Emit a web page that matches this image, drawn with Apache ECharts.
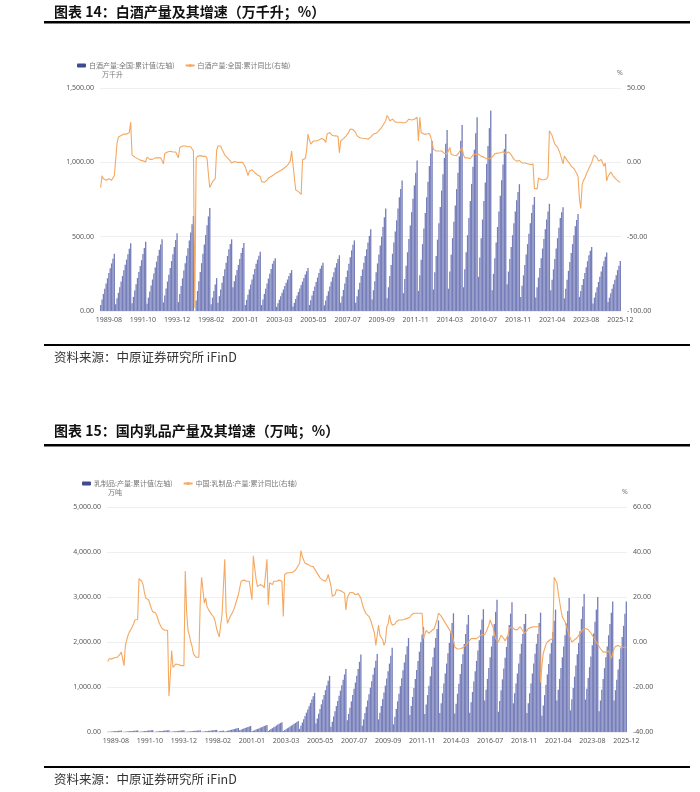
<!DOCTYPE html>
<html><head><meta charset="utf-8">
<script src="https://cdn.jsdelivr.net/npm/echarts/dist/echarts.min.js"></script>
<style>html,body{margin:0;padding:0;background:#fff}#c{width:700px;height:792px}</style>
</head><body><div id="c"></div>
<script>
// months present in the source series: [year, first month, last month]
const yearSpans = [[1989,2,12],[1990,1,12],[1991,2,12],[1992,1,12],[1993,2,12],[1994,1,12],[1995,1,12],
  [1998,2,6],[1999,2,12],[2000,4,12],[2001,1,12],[2002,2,12],[2003,1,12],[2004,1,12],[2005,2,12],
  [2006,1,12],[2007,2,12],[2008,1,12],[2009,2,12],[2010,1,12],[2011,2,12],[2012,2,12],[2013,2,12],
  [2014,2,12],[2015,2,12],[2016,3,12],[2017,2,12],[2018,3,12],[2019,2,12],[2020,2,12],[2021,3,12],
  [2022,2,12],[2023,3,12],[2024,2,12],[2025,3,12]];

const tickLabels = ['1989-08','1991-10','1993-12','1998-02','2001-01','2003-03','2005-05','2007-07',
  '2009-09','2011-11','2014-03','2016-07','2018-11','2021-04','2023-08','2025-12'];

// 白酒产量:全国:累计值 (万千升)
const liquorCum = [
  40,78,115,150,185,220,255,288,320,352,385,
  45,85,122,160,198,236,274,311,346,382,418,455,
  52,95,138,180,222,262,302,342,383,424,465,
  48,90,132,172,212,252,292,332,372,412,448,482,
  58,105,152,198,244,290,336,382,430,477,523,
  60,115,168,220,272,322,372,422,474,528,583,639,
  0,70,135,200,262,322,385,448,512,576,636,692,
  45,90,135,178,221,
  55,100,145,190,235,280,325,370,415,450,482,
  160,200,240,275,310,350,390,425,457,
  40,75,110,145,178,212,246,282,318,345,372,398,
  40,78,115,150,185,218,250,283,318,338,355,
  28,52,76,100,122,145,168,190,212,235,255,275,
  30,55,80,105,128,152,175,198,222,245,268,289,
  40,72,104,135,165,195,225,255,285,305,325,
  38,70,102,133,165,197,228,260,292,322,350,375,
  55,100,142,185,228,272,318,362,408,445,475,
  55,100,145,190,235,280,325,370,415,460,505,550,
  78,140,200,260,320,380,440,500,565,630,689,
  85,160,235,310,385,460,535,610,690,765,820,878,
  120,215,305,395,485,575,665,755,845,930,1012,
  135,240,345,450,555,660,765,870,975,1060,1144,
  145,260,370,480,590,700,810,920,1030,1125,1217,
  150,265,378,490,600,710,820,930,1040,1145,1251,
  160,280,395,510,625,740,855,970,1085,1195,1304,
  230,360,490,615,740,865,990,1110,1230,1349,
  140,250,355,460,565,670,775,880,985,1090,1190,
  180,265,350,430,510,590,670,745,800,853,
  95,170,240,310,380,450,520,590,660,715,767,
  90,160,225,290,355,420,485,550,615,670,721,
  140,210,280,350,420,490,560,625,665,698,
  85,150,210,270,330,390,450,510,570,612,653,
  95,135,175,215,255,295,335,375,405,430,
  50,90,125,160,195,230,265,300,335,365,394,
  60,90,120,150,180,210,240,275,305,337
];

// 白酒产量:全国:累计同比 (%)
const liquorYoy = [
  -17,-9,-11,-11,-12,-12,-11,-12,-12,-11,-9,
  -10,13,17,18,18,19,19,19,19,19,20,27,
  5,4,3.5,3,2.5,2,1.5,1.3,1,0.5,0.3,
  3.5,3,2,1.5,2,2.5,3,2.5,3,3,3,3,
  -1,6,7,7,7,7.5,7,7,7.5,7,7,
  3,10,10.5,11,11,11,11,10.5,11,10.5,10,7.6,
  -98,2.6,4,4.5,4.5,4,4,4.2,4,2.6,-8,-17,
  -16,-13,-12,-11,8,
  11,12.2,11,8.7,7,4.9,4,3,2,1,-0.4,
  0,0.5,0.5,0,-0.5,0,0.5,0,-1,
  -3,-4.2,-9,-6,-5.5,-5,-6,-7,-8,-8.5,-9,-9.5,
  -13,-13,-13.4,-13,-12,-10.6,-10,-9.5,-9,-8.3,-7.5,
  -7,-6.5,-6,-5.5,-5,-4.2,-3.5,-3,-2,-1,0.8,7.6,
  -1.5,-10,-18.6,-19,-19.7,-20.5,-21.6,1.9,2.2,2.5,8,19,
  15,12.2,13,14.4,14.4,14.4,14.4,15,15.5,16,16.7,
  15,13.3,19,20,20,19,18,17.8,17.8,17.5,17.5,6.4,
  14.4,15,16,17,17.8,19,20.5,22.4,22.4,22,22.4,
  20,17.8,17,16.5,16.2,16.2,16,16,15.8,15.5,15.5,17,
  18,19,19,19.5,20.5,21.3,22,23.5,25,26,28,
  31.5,30,28,28.5,29,28,27,26.3,27,27,27,27,
  26.5,26,27,28,29,29,28.5,28.5,29,30,30.3,
  14.4,30.3,20,19.5,19,19,19,19.4,19.4,17,13.3,
  8.7,8,7.6,7.6,7.6,7.6,7.6,6.5,6,6,5.8,
  7,10,5.3,5,4.8,4.2,4.5,5,7,8.5,9.9,
  5,3,3,3,2.6,2.6,3.5,4.9,5,5.5,5.8,
  5.5,5,4,3.5,3.5,3,2.4,2.4,2.4,3,
  3.5,4.5,5.8,6,6.2,6.4,6.5,7,7.1,7,5.8,
  6.5,7,6,5,3.5,2,1.5,0.8,1,1.2,
  0,-0.4,-0.4,-0.4,-0.5,-1,-1.2,-1.5,-1.5,-1.2,-17.5,
  -18.6,-18,-10.6,-11,-11.7,-11.7,-11.7,-11.5,-11,-9.5,21.3,
  21,18,15,12.2,11,10,8,5.5,4.2,-1,
  4.2,3,1.3,0.5,-1,-2.6,-3.5,-4.2,-5.5,-7.5,-9.5,
  -24.3,-31.1,-15.2,-12,-10.6,-8,-6,-4,-2,-0.4,
  3,4.9,5.3,3,0.8,1,1.9,1.5,-2.6,-0.5,-12.5,
  -9.5,-8,-6.5,-7.5,-9.5,-10.5,-11.5,-12.5,-13,-13.4
];

// 乳制品:产量:累计值 (万吨)
const dairyCum = [
  3,6,9,12,15,18,21,24,27,30,33,
  3,6,9,12,15,18,21,24,27,30,33,36,
  5,9,13,17,21,25,29,32,35,38,41,
  4,8,12,16,19,22,25,28,31,34,37,40,
  5,9,13,16,19,22,25,28,31,34,37,
  4,8,11,14,17,20,23,26,29,32,35,38,
  5,9,13,17,21,25,29,33,37,41,44,47,
  8,14,20,26,32,
  10,18,26,34,42,50,58,66,74,82,90,
  40,52,64,76,88,100,112,124,135,
  15,28,41,54,67,80,93,106,119,132,145,158,
  25,45,65,85,105,125,145,165,185,200,215,
  22,42,62,82,102,122,142,162,182,202,222,242,
  70,140,210,285,355,430,500,575,645,720,795,872,
  190,300,405,510,615,720,825,930,1035,1140,1247,
  115,230,345,460,575,690,805,920,1040,1160,1280,1398,
  260,400,540,680,820,960,1100,1250,1400,1560,1721,
  140,280,420,560,700,840,985,1130,1280,1430,1585,1736,
  280,430,580,730,880,1030,1190,1350,1520,1695,1871,
  170,340,510,680,850,1020,1195,1370,1545,1725,1905,2089,
  380,580,780,980,1180,1380,1580,1785,1995,2165,2337,
  400,610,820,1030,1240,1450,1660,1875,2090,2290,2480,
  420,640,860,1080,1300,1520,1750,1980,2210,2425,2638,
  410,630,850,1070,1290,1510,1730,1955,2180,2390,2600,
  430,660,890,1120,1350,1580,1810,2040,2270,2500,2728,
  700,940,1180,1420,1660,1900,2140,2400,2670,2938,
  450,690,930,1170,1410,1650,1890,2130,2380,2630,2886,
  640,860,1080,1300,1520,1740,1960,2180,2400,2623,
  420,640,860,1080,1300,1520,1740,1960,2180,2420,2653,
  360,590,820,1050,1280,1510,1740,1980,2220,2470,2720,
  700,940,1180,1420,1660,1900,2150,2410,2690,2976,
  480,730,980,1230,1480,1730,1980,2240,2510,2790,3066,
  720,960,1200,1440,1680,1930,2190,2450,2720,2998,
  460,700,940,1180,1420,1660,1900,2150,2400,2650,2901,
  700,930,1160,1390,1620,1860,2110,2360,2630,2901
];

// 中国:乳制品:产量:累计同比 (%)
const dairyYoy = [
  -8.7,-7.5,-6.8,-7.5,-7,-7,-7,-6.8,-7,-5.5,-4.5,
  -4,-10.5,-1.5,1,3,4.5,5.5,6.7,8,9.8,9.8,10,
  28.2,28,27,25.5,22,19.5,19,18.8,17,15,13.5,
  13.5,13,12,10,8.3,7,6,5.5,5.2,5.2,5.2,-24,
  -15,-3.8,-11.3,-10.5,-9.8,-9.8,-10,-10.5,-10.5,-10.5,-10.5,
  31.5,13.5,5.2,3,0,-2,-5.3,-6,-6.8,-6.8,-6.8,18,
  28.8,28.5,17.3,19.5,15.7,14.5,13.5,12.5,12,11,9,6,
  4,2.2,7.5,12,12,
  36.8,13.5,8.3,8.3,11.3,12,13.5,15,17,19,21,
  24,27,27.8,27.5,27,27,27,27,26.8,
  18.8,38.3,33,28,24.7,25,25.5,25.5,25,24,23.7,36.8,
  16.5,26.3,25.5,25.5,27,27,27,27.5,27.5,27,27,
  11.3,30,30.5,30.8,30.8,30.8,30.8,31,31.5,32,33,33.8,
  35,40.6,38,36.4,35,34.5,34.5,34,33.8,33.8,33.5,33,
  31.5,30.5,29.5,28.5,28,27.5,27,27,28,30,30.8,
  25,20.3,19.5,21,23.2,23,23,23,22.5,22,21.7,14.2,
  19.5,21,22,22.5,22,21.5,21,21,21.5,21,19.5,
  17,15,13.5,12.5,12,11.3,10,8,6,3.8,-1.5,3,
  7.5,3,2,1,-1.5,0,6.8,8,12,9,7.5,
  7.5,8,9,9.8,9.8,9.8,9.8,9.8,10,10,10.5,10.5,
  11,12,12.8,12.8,12.8,12.8,12.8,12.8,12.8,12.8,1.5,
  1.5,5.2,4.5,3.8,4,5,5.5,6,8,10,12.8,
  12.8,11.5,10.5,9.5,8.5,7.5,6.5,5.5,4.5,3.5,3,
  -2.3,-2.5,-3.1,-3,-3,-2.8,-2.5,-2,-1.5,-1,0,
  0.5,1.5,1.5,1.5,1.5,1.5,2,2.5,3,3.3,3.3,
  3.3,4.5,6,7.5,9.8,8,6.8,4,1.5,1,
  0,0.5,3,3,1.5,0.5,1,3,6,6.5,6.8,
  6,5.5,5.2,5.5,6,6.8,6.5,5,3.8,4.5,
  5,6,6.5,6.5,6.5,6.8,6.8,6.8,6.8,6.8,-18,
  -10.5,-5,-3,-1,0,0.5,1,1.5,1.5,28.8,27.5,
  26.3,22,18,14,11.3,10,9,7,5,3,
  1.5,0,0,1,1.5,2,3,3.8,4.5,5.5,6,
  6,6,5.5,5,4,3,2,1,0,-1,
  -2,-3,-3.5,-4.5,-4.5,-4.5,-4.2,-4,-4,-7.3,-5,
  -3,-2,-1.5,-1.5,-2.3,-2.3,-2.3,-2.3,-2,-2.3
];

const categories = [];
yearSpans.forEach(([y, a, b]) => {
  for (let m = a; m <= b; m++) categories.push(y + '-' + String(m).padStart(2, '0'));
});
const tickSet = new Set(tickLabels);

const BAR = '#777fba', LINE = '#f5a860', LEG_BAR = '#3f4b8f';
const numFont = '"Noto Sans", "Liberation Sans", sans-serif';
const cjk = '"Noto Sans CJK SC", sans-serif';
const lab = { fontSize: 7, color: '#595959', fontFamily: numFont };
const fmt = v => Number(v).toLocaleString('en-US', { minimumFractionDigits: 2, maximumFractionDigits: 2 });

function xAx(gi) {
  return { type: 'category', gridIndex: gi, data: categories, boundaryGap: true,
    axisLine: { show: false }, axisTick: { show: false },
    axisLabel: Object.assign({ interval: (i, v) => tickSet.has(v), margin: 5 }, lab) };
}
function yAx(gi, min, max, step, right) {
  return { type: 'value', gridIndex: gi, min: min, max: max, interval: step,
    position: right ? 'right' : 'left',
    axisLine: { show: false }, axisTick: { show: false },
    axisLabel: Object.assign({ formatter: fmt, margin: 6 }, lab),
    splitLine: { show: !right, lineStyle: { color: '#efefef', width: 1 } } };
}
function txt(x, y, s, font, fill, align) {
  return { type: 'text', x: x, y: y, silent: true,
    style: { text: s, font: font, fill: fill, verticalAlign: 'middle', align: align || 'left' } };
}
function bar(x, y, w, h) {
  return { type: 'rect', silent: true, shape: { x: x, y: y, width: w, height: h }, style: { fill: '#000' } };
}

const chart = echarts.init(document.getElementById('c'), null, { renderer: 'canvas' });
chart.setOption({
  animation: false,
  backgroundColor: '#fff',
  grid: [
    { left: 100, top: 88, width: 521, height: 223 },
    { left: 107, top: 507, width: 520, height: 225 }
  ],
  xAxis: [xAx(0), xAx(1)],
  yAxis: [yAx(0, 0, 1500, 500, false), yAx(0, -100, 50, 50, true),
          yAx(1, 0, 5000, 1000, false), yAx(1, -40, 60, 20, true)],
  legend: [
    { left: 72, top: 57, itemWidth: 9, itemHeight: 4, itemGap: 10,
      textStyle: { fontSize: 7, color: '#777', fontFamily: cjk, padding: [0, 0, 0, -2] },
      data: [{ name: '白酒产量:全国:累计值(左轴)', itemStyle: { color: LEG_BAR } }, '白酒产量:全国:累计同比(右轴)'] },
    { left: 77, top: 475, itemWidth: 9, itemHeight: 4, itemGap: 10,
      textStyle: { fontSize: 7, color: '#777', fontFamily: cjk, padding: [0, 0, 0, -2] },
      data: [{ name: '乳制品:产量:累计值(左轴)', itemStyle: { color: LEG_BAR } }, '中国:乳制品:产量:累计同比(右轴)'] }
  ],
  series: [
    { name: '白酒产量:全国:累计值(左轴)', type: 'bar', xAxisIndex: 0, yAxisIndex: 0, data: liquorCum,
      barCategoryGap: '3%', itemStyle: { color: BAR } },
    { name: '白酒产量:全国:累计同比(右轴)', type: 'line', xAxisIndex: 0, yAxisIndex: 1, data: liquorYoy,
      symbol: 'none', lineStyle: { color: LINE, width: 1.1 }, itemStyle: { color: LINE } },
    { name: '乳制品:产量:累计值(左轴)', type: 'bar', xAxisIndex: 1, yAxisIndex: 2, data: dairyCum,
      barCategoryGap: '3%', itemStyle: { color: BAR } },
    { name: '中国:乳制品:产量:累计同比(右轴)', type: 'line', xAxisIndex: 1, yAxisIndex: 3, data: dairyYoy,
      symbol: 'none', lineStyle: { color: LINE, width: 1.1 }, itemStyle: { color: LINE } }
  ],
  graphic: [
    txt(54, 12, '图表 14：白酒产量及其增速（万千升；%）', 'bold 14px ' + cjk, '#111'),
    bar(44, 21, 646, 2.5),
    txt(102, 74, '万千升', '7px ' + cjk, '#777'),
    txt(617, 73, '%', '7px ' + numFont, '#777'),
    bar(44, 344, 646, 2),
    txt(54, 357, '资料来源：中原证券研究所 iFinD', '12.5px ' + cjk, '#333'),
    txt(54, 431, '图表 15：国内乳品产量及其增速（万吨；%）', 'bold 14px ' + cjk, '#111'),
    bar(44, 444, 646, 2.5),
    txt(108, 492, '万吨', '7px ' + cjk, '#777'),
    txt(622, 492, '%', '7px ' + numFont, '#777'),
    bar(44, 766, 646, 2),
    txt(54, 779, '资料来源：中原证券研究所 iFinD', '12.5px ' + cjk, '#333')
  ]
});
if (liquorCum.length !== categories.length || dairyYoy.length !== categories.length ||
    liquorYoy.length !== categories.length || dairyCum.length !== categories.length)
  console.error('length mismatch', categories.length, liquorCum.length, liquorYoy.length, dairyCum.length, dairyYoy.length);
</script>
</body></html>
